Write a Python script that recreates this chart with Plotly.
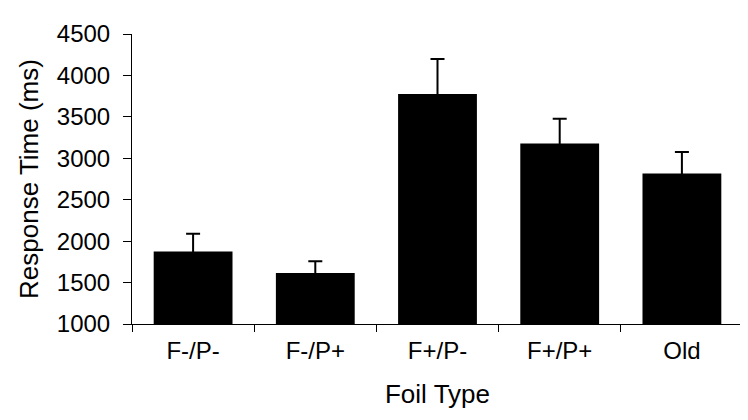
import plotly.graph_objects as go

categories = ["F-/P-", "F-/P+", "F+/P-", "F+/P+", "Old"]
response_ms = [1875, 1617, 3777, 3177, 2817]
error_ms = [215, 140, 420, 300, 260]
y_ticks = [1000, 1500, 2000, 2500, 3000, 3500, 4000, 4500]

font_family = "Liberation Sans, Arial, sans-serif"

fig = go.Figure()
fig.add_trace(go.Bar(
    x=categories,
    y=[v - 1000 for v in response_ms],
    base=1000,
    width=0.645,
    marker=dict(color="black", line=dict(width=0)),
    error_y=dict(type="data", symmetric=False, array=error_ms,
                 arrayminus=[100] * len(error_ms),
                 color="black", thickness=2, width=7),
))

fig.update_layout(
    width=748, height=420, autosize=False,
    margin=dict(l=124, r=13, t=19, b=104),
    paper_bgcolor="white", plot_bgcolor="white",
    showlegend=False,
    font=dict(family=font_family, size=24, color="black"),
)
fig.update_xaxes(
    type="category", range=[-0.5, 4.5],
    showline=True, linecolor="black", linewidth=1,
    ticks="outside", tickson="boundaries", ticklen=7, tickcolor="black", tickwidth=1,
    showgrid=False, zeroline=False,
    tickfont=dict(size=24), ticklabelstandoff=5,
    title=dict(text="Foil Type", font=dict(size=26), standoff=22),
)
fig.update_yaxes(
    range=[1000, 4500], tickvals=y_ticks,
    showline=True, linecolor="black", linewidth=1,
    ticks="outside", ticklen=8, tickcolor="black", tickwidth=1,
    showgrid=False, zeroline=False,
    tickfont=dict(size=24), ticklabelstandoff=8,
    title=dict(text="Response Time (ms)", font=dict(size=26), standoff=10),
)

fig.write_html("out.html")
